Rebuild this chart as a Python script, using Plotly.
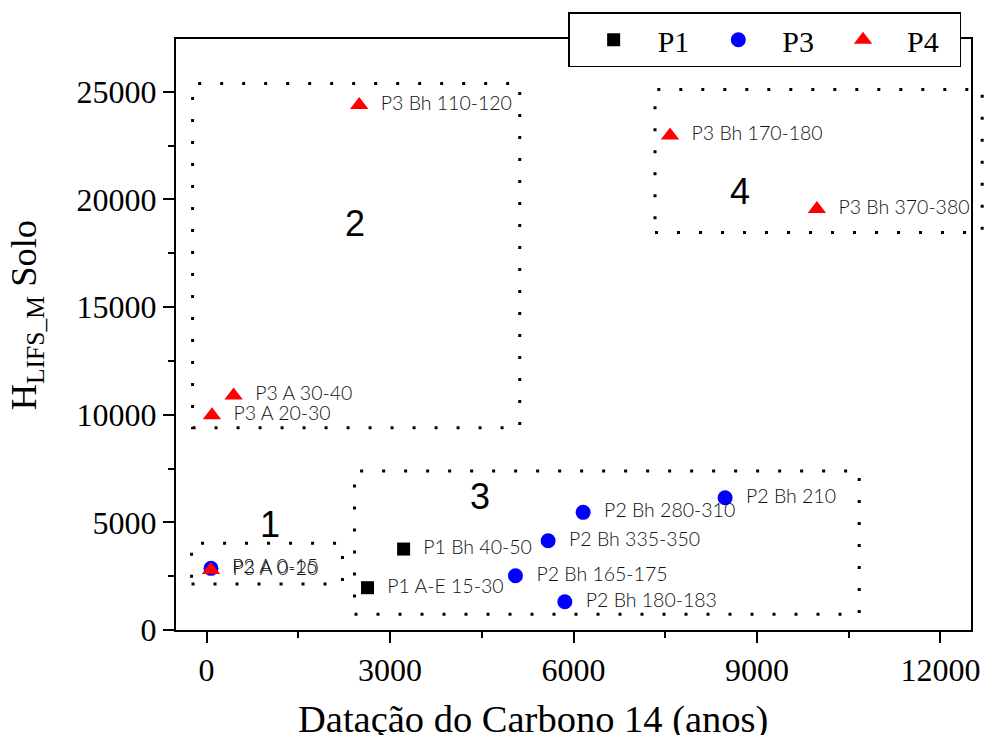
import plotly.graph_objects as go

# ---------------- data ----------------
p1_x = [3222, 2632]
p1_y = [3760, 1964]
p1_labels = ["P1 Bh 40-50", "P1 A-E 15-30"]

p3_x = [72, 8479, 6158, 5585, 5051, 5858]
p3_y = [2864, 6142, 5464, 4146, 2521, 1314]
p3_labels = ["P2 A 0-15", "P2 Bh 210", "P2 Bh 280-310", "P2 Bh 335-350",
             "P2 Bh 165-175", "P2 Bh 180-183"]

p4_x = [72, 88, 442, 2496, 7578, 9980]
p4_y = [2790, 9970, 10896, 24387, 22967, 19559]
p4_labels = ["P3 A 0-20", "P3 A 20-30", "P3 A 30-40", "P3 Bh 110-120",
             "P3 Bh 170-180", "P3 Bh 370-380"]

series_names = ["P1", "P3", "P4"]

# group boxes (x0, x1, y0, y1) in data units, and their numbers
group_names = ["1", "2", "3", "4"]
group_boxes = [(-246, 2222, 2136, 4025),
               (-229, 5121, 9392, 25381),
               (2419, 10672, 729, 7382),
               (7333, 12683, 18463, 25102)]
group_label_pos = [(1038, 4921), (2419, 18881), (4466, 6188), (8724, 20348)]

x_title = "Datação do Carbono 14 (anos)"
y_title = "H<sub>LIFS_M</sub> Solo"

X_RANGE = [-500, 12500]
Y_RANGE = [0, 27450]

# ---------------- figure ----------------
label_font = dict(family="Lato, 'Open Sans', sans-serif", size=19.5, color="#111111", weight=300)
NB = "\u00a0"

fig = go.Figure()
fig.add_trace(go.Scatter(x=p1_x, y=p1_y, mode="markers+text", name=series_names[0],
                         text=[NB + NB + t for t in p1_labels], textposition="middle right",
                         textfont=label_font,
                         marker=dict(symbol="square", size=13, color="black")))
fig.add_trace(go.Scatter(x=p3_x, y=p3_y, mode="markers+text", name=series_names[1],
                         text=[NB + NB + t for t in p3_labels], textposition="middle right",
                         textfont=label_font,
                         marker=dict(symbol="circle", size=15, color="#0000ff")))
fig.add_trace(go.Scatter(x=p4_x, y=p4_y, mode="markers+text", name=series_names[2] + NB + NB,
                         text=[NB + NB + t for t in p4_labels], textposition="middle right",
                         textfont=label_font,
                         marker=dict(symbol="triangle-up", size=16, color="#ff0000")))


def to_paper_x(v):
    return (v - X_RANGE[0]) / (X_RANGE[1] - X_RANGE[0])


for (x0, x1, y0, y1) in group_boxes:
    fig.add_shape(type="rect", xref="paper", yref="y",
                  x0=to_paper_x(x0), x1=to_paper_x(x1), y0=y0, y1=y1,
                  line=dict(color="black", width=3, dash="3px,19px"), layer="above")

for name, (gx, gy) in zip(group_names, group_label_pos):
    fig.add_annotation(x=gx, y=gy, xref="x", yref="y", text=name, showarrow=False,
                       font=dict(family="Liberation Sans, Arial, sans-serif", size=36, color="black"))

# axis titles as annotations
fig.add_annotation(x=(533 - 175.7) / 795.3, y=-113.4 / 591, xref="paper", yref="paper",
                   text=x_title, showarrow=False, xanchor="center", yanchor="bottom",
                   font=dict(family="Liberation Serif, Times New Roman, serif", size=38.5, color="black"))
fig.add_annotation(x=(26 - 175.7) / 795.3, y=(630 - 315) / 591, xref="paper", yref="paper",
                   text=y_title, showarrow=False, textangle=-90, xanchor="center", yanchor="middle",
                   font=dict(family="Liberation Serif, Times New Roman, serif", size=36.5, color="black"))

tick_font = dict(family="Liberation Serif, Times New Roman, serif", size=32, color="black")
axis_common = dict(showline=True, linecolor="black", linewidth=2, mirror=True,
                   ticks="outside", ticklen=11, tickwidth=2, tickcolor="black",
                   showgrid=False, zeroline=False, tickfont=tick_font, tickformat="d",
                   automargin=False)

fig.update_xaxes(range=X_RANGE, tick0=0, dtick=3000,
                 minor=dict(dtick=1500, ticks="outside", ticklen=6, tickwidth=2, tickcolor="black"),
                 **axis_common)
fig.update_yaxes(range=Y_RANGE, tick0=0, dtick=5000,
                 minor=dict(dtick=2500, ticks="outside", ticklen=6, tickwidth=2, tickcolor="black"),
                 **axis_common)

fig.update_layout(
    width=984, height=735,
    margin=dict(l=176, r=13, t=39, b=105, pad=0, autoexpand=False),
    paper_bgcolor="white", plot_bgcolor="white",
    showlegend=True,
    legend=dict(orientation="h", x=(568 - 175.7) / 795.3, y=(630 - 12.3) / 591,
                xanchor="left", yanchor="top",
                bgcolor="white", bordercolor="black", borderwidth=1.5,
                itemwidth=78,
                font=dict(family="Liberation Serif, Times New Roman, serif", size=30, color="black")),
)

fig.write_html("out.html", config={"displayModeBar": False},
               post_script="document.body.style.margin='0';document.body.style.overflow='hidden';")
